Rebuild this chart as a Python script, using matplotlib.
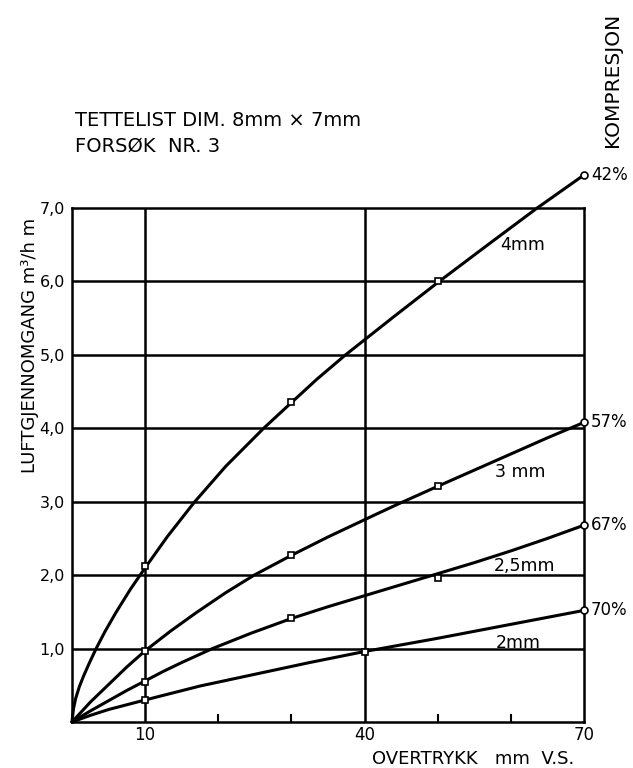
import matplotlib
matplotlib.use("Agg")
import matplotlib.pyplot as plt

plt.rcParams['font.family'] = ['DejaVu Sans']

# measured points (square markers)
meas_x = {
    '4mm': [10, 30, 50],
    '3mm': [10, 30, 50],
    '2.5mm': [10, 30, 50],
    '2mm': [10, 40],
}
meas_y = {
    '4mm': [21.2, 43.6, 60.1],
    '3mm': [9.7, 22.7, 32.2],
    '2.5mm': [5.5, 14.1, 19.6],
    '2mm': [3.0, 9.6],
}
# traced curve points
curve_4mm_x = [0, 0.2, 0.5, 1, 1.6, 2.4, 3.3, 4.5, 6, 8, 10, 13, 16.7, 21, 26.2, 30, 33.5, 37.4, 44, 50.2, 57, 63.6, 70]
curve_4mm_y = [0, 1.8, 3.2, 4.8, 6.3, 8.1, 10, 12.3, 14.9, 18.1, 21.0, 25.2, 29.9, 34.8, 40, 43.5, 46.7, 50, 55.2, 60, 65.1, 70, 74.5]
curve_3mm_x = [0, 2.5, 5, 7.5, 10, 13.5, 17, 21, 24.9, 30, 35, 41.6, 44.4, 50, 55, 60, 65, 70]
curve_3mm_y = [0, 2.7, 5.1, 7.5, 9.7, 12.4, 14.9, 17.6, 20, 22.7, 25.2, 28.3, 29.6, 32.1, 34.3, 36.5, 38.7, 40.8]
curve_25mm_x = [0, 2.5, 5, 7.5, 10, 12.5, 15, 19.2, 24.5, 30, 35, 40, 45, 50, 55, 60, 65, 70]
curve_25mm_y = [0, 1.5, 2.9, 4.3, 5.6, 6.9, 8.1, 10, 12.1, 14.1, 15.7, 17.2, 18.7, 20.2, 21.7, 23.3, 25.0, 26.8]
curve_2mm_x = [0, 2.5, 5, 10, 17.5, 25, 32.5, 40, 50, 60, 70]
curve_2mm_y = [0, 0.9, 1.7, 3.0, 4.9, 6.5, 8.1, 9.6, 11.4, 13.3, 15.2]

end_labels = ['42%', '57%', '67%', '70%']
curve_names = ['4mm', '3 mm', '2,5mm', '2mm']
name_pos_x = [58.6, 57.9, 57.7, 57.9]
name_pos_y = [64.9, 34.0, 21.2, 10.8]

y_ticks = [10, 20, 30, 40, 50, 60, 70]
y_tick_labels = ['1,0', '2,0', '3,0', '4,0', '5,0', '6,0', '7,0']
x_ticks = [10, 40, 70]
x_tick_labels = ['10', '40', '70']
x_minor = [20, 30, 50, 60]

fig = plt.figure(figsize=(6.33, 7.68), dpi=100)
ax = fig.add_axes([72/633, 46/768, 512/633, 514/768])
ax.set_xlim(0, 70)
ax.set_ylim(0, 70)

lw = 1.8
for s in ax.spines.values():
    s.set_linewidth(lw)
    s.set_color('black')

for yv in y_ticks[:-1]:
    ax.axhline(yv, color='black', lw=lw, zorder=1)
for xv in x_ticks[:-1]:
    ax.axvline(xv, color='black', lw=lw, zorder=1)

curves = [(curve_4mm_x, curve_4mm_y), (curve_3mm_x, curve_3mm_y),
          (curve_25mm_x, curve_25mm_y), (curve_2mm_x, curve_2mm_y)]
keys = ['4mm', '3mm', '2.5mm', '2mm']
for (cx, cy), k, lab, nm, nx, ny in zip(curves, keys, end_labels, curve_names, name_pos_x, name_pos_y):
    ax.plot(cx, cy, color='black', lw=2.2, clip_on=False, zorder=3,
            solid_joinstyle='round', solid_capstyle='round')
    ax.plot(meas_x[k], meas_y[k], 's', ms=4.5, mfc='white', mec='black', mew=1.2, zorder=4)
    ax.plot([cx[-1]], [cy[-1]], 'o', ms=5, mfc='white', mec='black', mew=1.2, clip_on=False, zorder=5)
    ax.annotate(lab, (cx[-1], cy[-1]), xytext=(5, 0), textcoords='offset points',
                ha='left', va='center', fontsize=12, annotation_clip=False)
    ax.text(nx, ny, nm, ha='left', va='center', fontsize=12.5)

ax.set_yticks(y_ticks)
ax.set_yticklabels(y_tick_labels, fontsize=11.5)
ax.set_xticks(x_ticks)
ax.set_xticklabels(x_tick_labels, fontsize=12)
ax.set_xticks(x_minor, minor=True)
ax.tick_params(axis='y', length=0, pad=5)
ax.tick_params(axis='x', which='major', length=0, pad=3)
ax.tick_params(axis='x', which='minor', direction='in', length=6, width=1.5)

fig.text(372/633, 1 - 759/768, 'OVERTRYKK   mm  V.S.', ha='left', va='center', fontsize=13)
fig.text(30/633, 1 - 345/768, 'LUFTGJENNOMGANG m³/h m', rotation=90,
         ha='center', va='center', fontsize=13)
fig.text(75/633, 1 - 120/768, 'TETTELIST DIM. 8mm × 7mm', ha='left', va='center', fontsize=14)
fig.text(75/633, 1 - 146/768, 'FORSØK  NR. 3', ha='left', va='center', fontsize=14)
fig.text(612/633, 1 - 80/768, 'KOMPRESJON', rotation=90, ha='center', va='center', fontsize=14.5)

fig.savefig('out.png', dpi=100, facecolor='white')
